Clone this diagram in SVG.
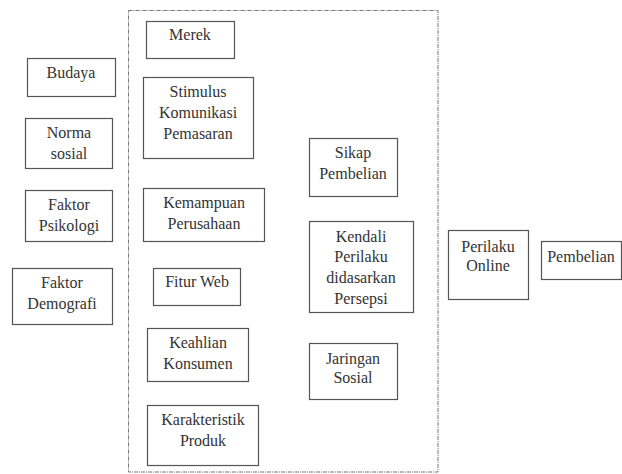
<svg xmlns="http://www.w3.org/2000/svg" width="622" height="474" viewBox="0 0 622 474">
<style>
.b{fill:#fff;stroke:#555;stroke-width:1.2}
.t{font-size:16px;fill:#333;text-anchor:middle}
.d{fill:none;stroke:#777;stroke-width:1;stroke-dasharray:4 1 1 1}
</style>
<rect width="622" height="474" fill="#fff"/>
<g id="frame"><rect class="d" x="128.5" y="10.5" width="309.5" height="461.5"/></g>
<g id="connectors"></g>
<g font-family="Liberation Serif, Times New Roman, serif">
<g id="merek"><rect class="b" x="146.5" y="21.5" width="88" height="37"/><text class="t" x="190" y="40">Merek</text></g>
<g id="budaya"><rect class="b" x="27.5" y="58.5" width="88" height="38"/><text class="t" x="71" y="78">Budaya</text></g>
<g id="stimulus"><rect class="b" x="143.5" y="77.5" width="110" height="81"/><text class="t" x="198" y="97">Stimulus</text><text class="t" x="198" y="118">Komunikasi</text><text class="t" x="198" y="139">Pemasaran</text></g>
<g id="norma"><rect class="b" x="25.5" y="118.5" width="87" height="50"/><text class="t" x="69" y="138">Norma</text><text class="t" x="69" y="159">sosial</text></g>
<g id="psikologi"><rect class="b" x="25.5" y="190.5" width="87" height="51"/><text class="t" x="69" y="210">Faktor</text><text class="t" x="69" y="231">Psikologi</text></g>
<g id="kemampuan"><rect class="b" x="143.5" y="188.5" width="121" height="53"/><text class="t" x="204" y="208">Kemampuan</text><text class="t" x="204" y="229">Perusahaan</text></g>
<g id="demografi"><rect class="b" x="12.5" y="268.5" width="100" height="56"/><text class="t" x="62" y="288">Faktor</text><text class="t" x="62" y="309">Demografi</text></g>
<g id="fitur"><rect class="b" x="153.5" y="268.5" width="87" height="37"/><text class="t" x="197" y="287">Fitur Web</text></g>
<g id="keahlian"><rect class="b" x="147.5" y="328.5" width="101" height="53"/><text class="t" x="198" y="348">Keahlian</text><text class="t" x="198" y="369">Konsumen</text></g>
<g id="karakteristik"><rect class="b" x="147.5" y="405.5" width="111" height="60"/><text class="t" x="203" y="425">Karakteristik</text><text class="t" x="203" y="446">Produk</text></g>
<g id="sikap"><rect class="b" x="309.5" y="138.5" width="88" height="58"/><text class="t" x="353" y="158">Sikap</text><text class="t" x="353" y="179">Pembelian</text></g>
<g id="kendali"><rect class="b" x="309.5" y="221.5" width="104" height="91"/><text class="t" x="361" y="242">Kendali</text><text class="t" x="361" y="262">Perilaku</text><text class="t" x="361" y="283">didasarkan</text><text class="t" x="361" y="304">Persepsi</text></g>
<g id="jaringan"><rect class="b" x="309.5" y="343.5" width="88" height="56"/><text class="t" x="353" y="364">Jaringan</text><text class="t" x="353" y="383">Sosial</text></g>
<g id="perilaku"><rect class="b" x="448.5" y="230.5" width="80" height="69"/><text class="t" x="488" y="252">Perilaku</text><text class="t" x="488" y="271">Online</text></g>
<g id="pembelian"><rect class="b" x="541.5" y="241.5" width="80" height="38"/><text class="t" x="581" y="262">Pembelian</text></g>
</g>
</svg>
